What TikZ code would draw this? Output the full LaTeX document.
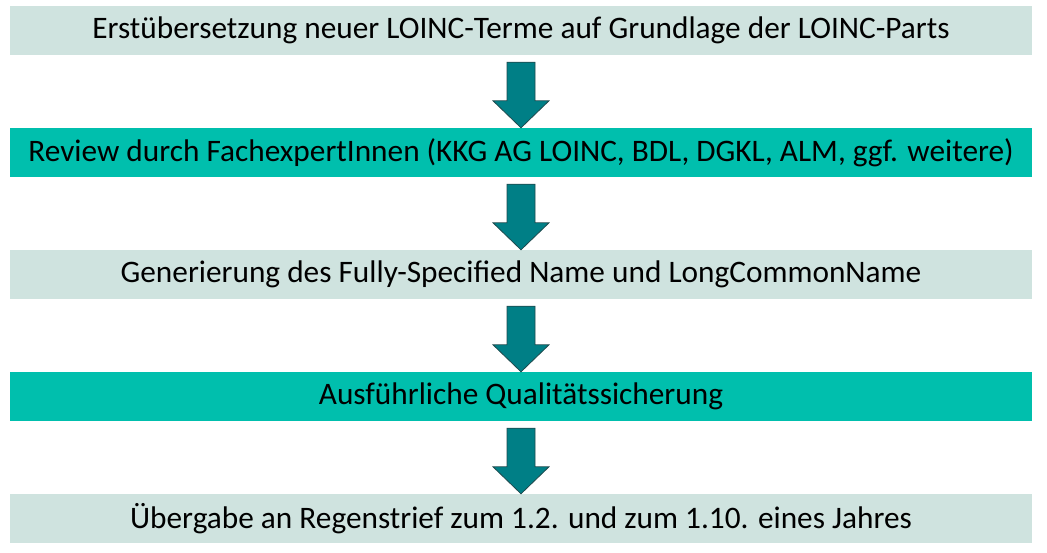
\documentclass[tikz,border=0pt]{standalone}
\usepackage{fontspec}
\setmainfont{Carlito}
\definecolor{lightbar}{HTML}{CFE3DF}
\definecolor{tealbar}{HTML}{00BFAD}
\definecolor{arrowfill}{HTML}{007F86}
\definecolor{arrowline}{HTML}{1F4A4E}
\begin{document}
\begin{tikzpicture}[x=1pt,y=-1pt,
  bar/.style={minimum width=1022pt,minimum height=49pt,inner sep=0pt,font=\fontsize{31.3}{34}\selectfont},
  flowarrow/.style={fill=arrowfill,draw=arrowline,line width=0.8pt}]
\useasboundingbox (0,0) rectangle (1047,552);
\node[bar,fill=lightbar] (b1) at (521,30.5) {Erstübersetzung neuer LOINC-Terme auf Grundlage der LOINC-Parts};
\node[bar,fill=tealbar] (b2) at (521,152.5) {Review durch FachexpertInnen (KKG AG LOINC, BDL, DGKL, ALM, ggf. weitere)};
\node[bar,fill=lightbar] (b3) at (521,274.5) {Generierung des Fully-Specified Name und LongCommonName};
\node[bar,fill=tealbar] (b4) at (521,396.5) {Ausführliche Qualitätssicherung};
\node[bar,fill=lightbar] (b5) at (521,518.5) {Übergabe an Regenstrief zum 1.2. und zum 1.10. eines Jahres};
\foreach \a/\b in {b1/b2,b2/b3,b3/b4,b4/b5}{
  \draw[flowarrow] ([xshift=-14pt,yshift=-7pt]\a.south) -- ([xshift=-14pt,yshift=27pt]\b.north)
    -- ([xshift=-28pt,yshift=27pt]\b.north) -- (\b.north) -- ([xshift=28pt,yshift=27pt]\b.north)
    -- ([xshift=14pt,yshift=27pt]\b.north) -- ([xshift=14pt,yshift=-7pt]\a.south) -- cycle;
}
\end{tikzpicture}
\end{document}
